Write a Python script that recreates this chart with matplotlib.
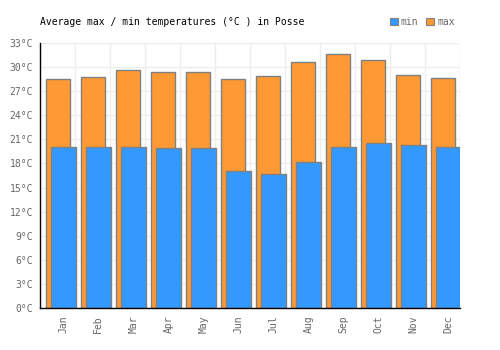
import matplotlib
matplotlib.use("Agg")
import matplotlib.pyplot as plt
import numpy as np
from matplotlib.patches import Patch

months = ["Jan", "Feb", "Mar", "Apr", "May", "Jun", "Jul", "Aug", "Sep", "Oct", "Nov", "Dec"]
tmax = [28.5, 28.8, 29.6, 29.35, 29.35, 28.5, 28.85, 30.6, 31.6, 30.85, 29.0, 28.6]
tmin = [20.1, 20.1, 20.1, 19.9, 19.9, 17.1, 16.65, 18.15, 20.1, 20.6, 20.25, 20.1]
yticks = [0, 3, 6, 9, 12, 15, 18, 21, 24, 27, 30, 33]

plt.rcParams['font.family'] = ['DejaVu Sans Mono']
fig = plt.figure(figsize=(5, 3.5), dpi=100)
ax = fig.add_axes([0.08, 0.12, 0.84, 0.757])

x = np.arange(len(months))
orange = "#ff9933"
blue = "#3399ff"
edge = "#808080"
ax.bar(x + 0.014, tmax, width=0.67, color=orange, edgecolor=edge, linewidth=1, zorder=3)
ax.bar(x + 0.167, tmin, width=0.70, color=blue, edgecolor=edge, linewidth=1, zorder=4)

ax.set_xlim(-0.5, 11.5)
ax.set_ylim(0, 33)
ax.set_yticks(yticks)
ax.set_yticklabels([f"{v}°C" for v in yticks])
ax.set_xticks(x + 0.167)
ax.set_xticklabels(months, rotation=90)
for v in yticks:
    ax.axhline(v, color="#eeeeee", lw=1, zorder=0)
for b in np.arange(-0.5, 12, 1):
    ax.axvline(b, color="#eeeeee", lw=1, zorder=0)
ax.tick_params(axis='both', length=0, labelsize=7, colors="#666666", pad=5)
for s in ["top", "right"]:
    ax.spines[s].set_visible(False)
for s in ["left", "bottom"]:
    ax.spines[s].set_color("black")
    ax.spines[s].set_linewidth(1)
    ax.spines[s].set_zorder(5)

fig.text(0.08, 0.937, "Average max / min temperatures (°C ) in Posse", fontsize=7, ha="left", va="center", color="black")
handles = [Patch(facecolor=blue, edgecolor=edge, lw=0.8), Patch(facecolor=orange, edgecolor=edge, lw=0.8)]
leg = fig.legend(handles, ["min", "max"], loc="center", bbox_to_anchor=(0.845, 0.937), ncol=2,
                 frameon=False, handlelength=0.8, handleheight=0.8, handletextpad=0.3,
                 columnspacing=0.8, fontsize=7)
for t in leg.get_texts():
    t.set_color("#666666")

fig.savefig("out.png", dpi=100)
